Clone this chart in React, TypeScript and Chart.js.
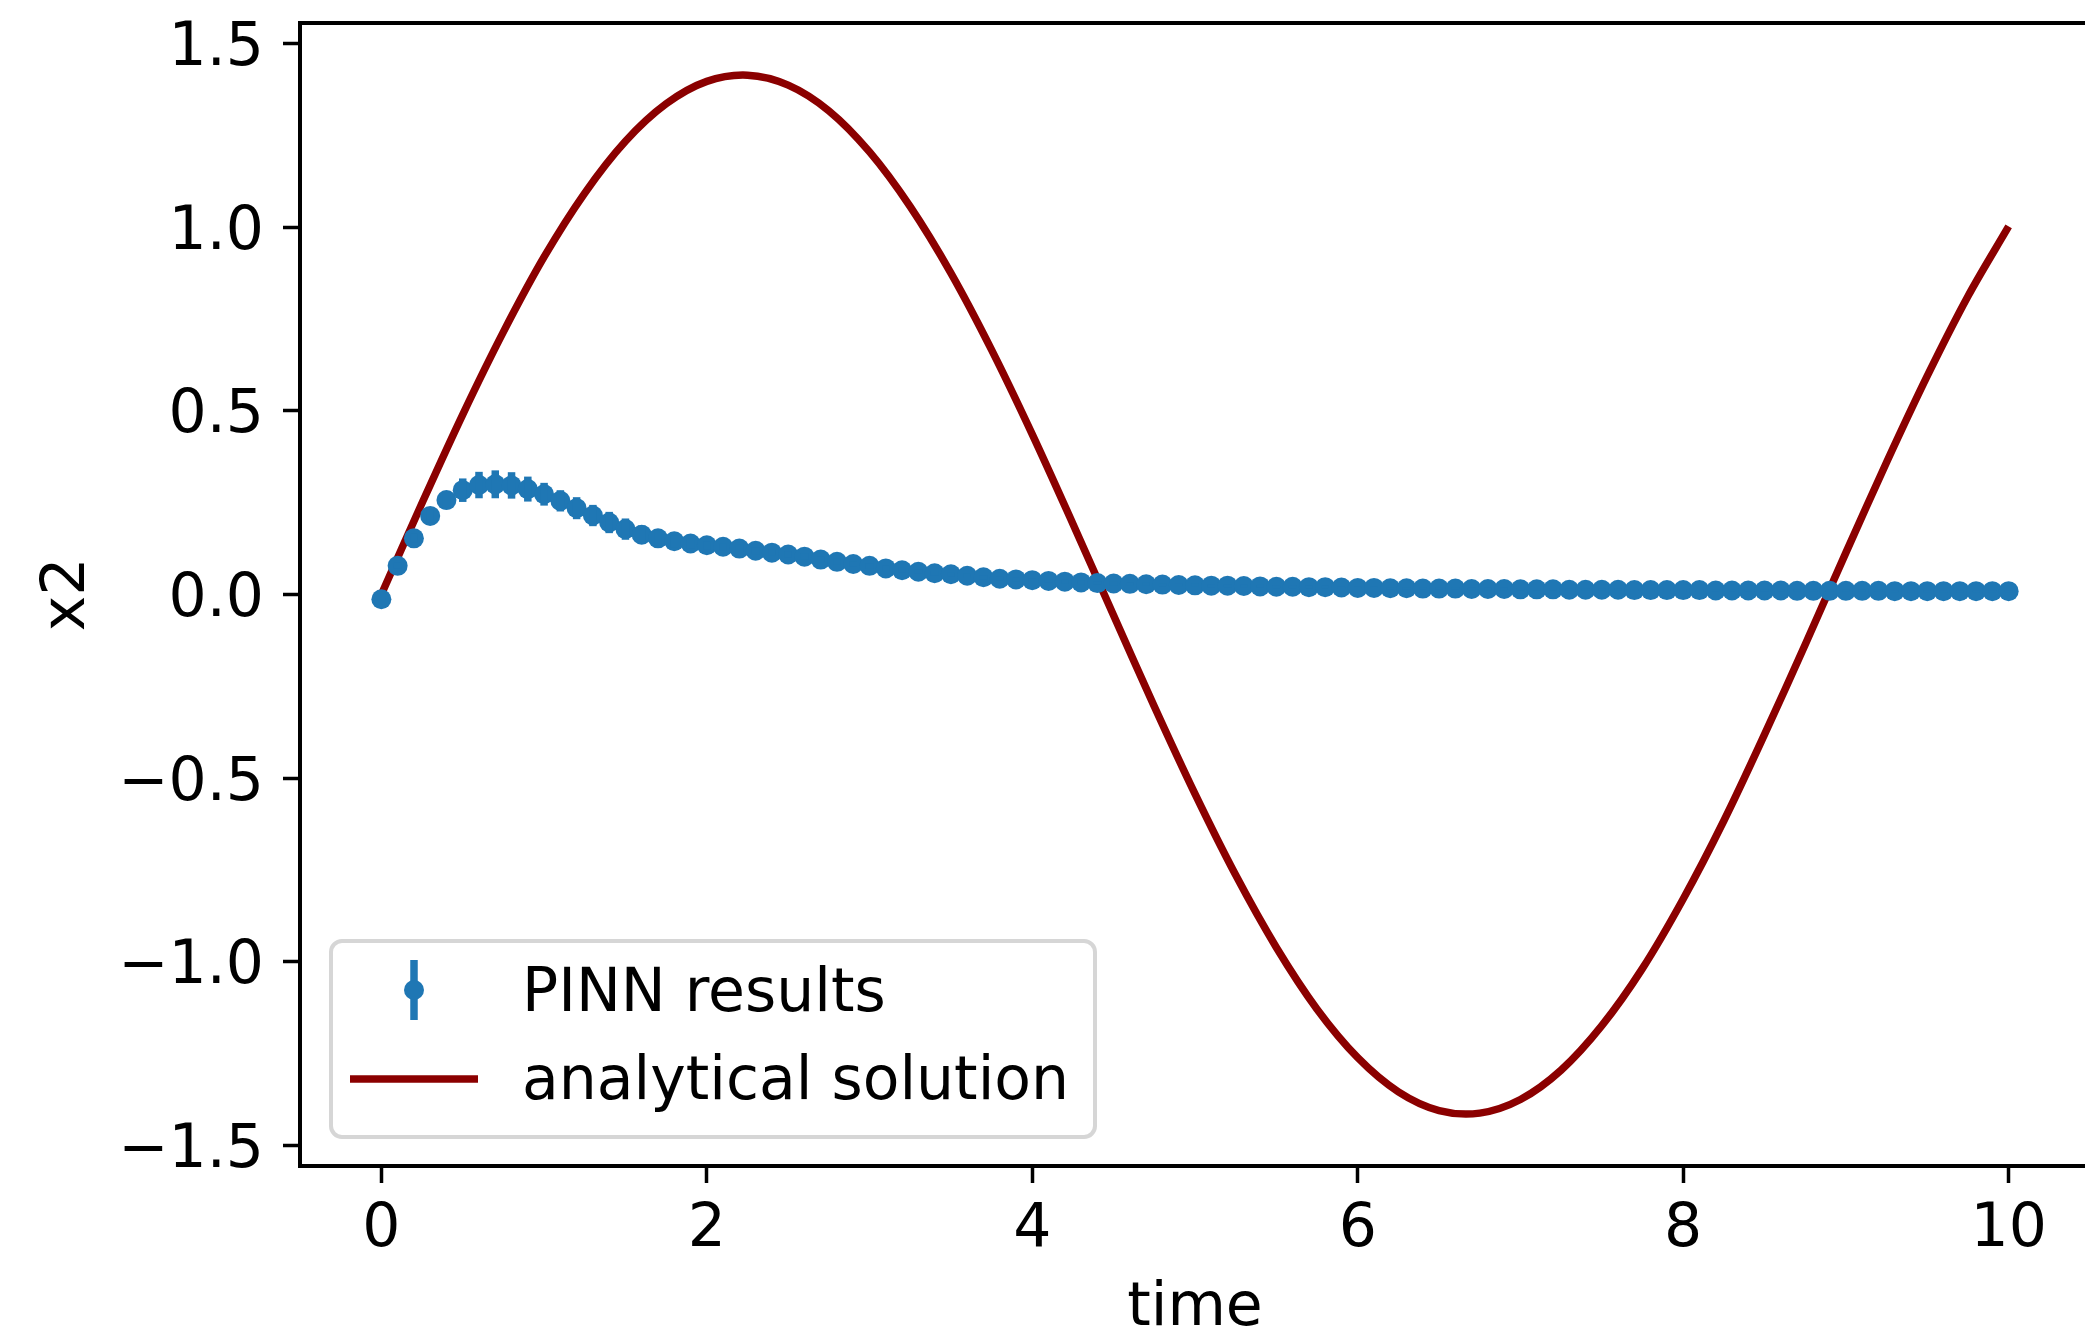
import React, { useEffect, useRef } from 'react';
import { Chart, registerables } from 'chart.js';

Chart.register(...registerables);

// ---------------- data ----------------
const pinnTimes = [
  0.0, 0.1, 0.2, 0.3, 0.4, 0.5, 0.6, 0.7, 0.8, 0.9,
  1.0, 1.1, 1.2, 1.3, 1.4, 1.5, 1.6, 1.7, 1.8, 1.9,
  2.0, 2.1, 2.2, 2.3, 2.4, 2.5, 2.6, 2.7, 2.8, 2.9,
  3.0, 3.1, 3.2, 3.3, 3.4, 3.5, 3.6, 3.7, 3.8, 3.9,
  4.0, 4.1, 4.2, 4.3, 4.4, 4.5, 4.6, 4.7, 4.8, 4.9,
  5.0, 5.1, 5.2, 5.3, 5.4, 5.5, 5.6, 5.7, 5.8, 5.9,
  6.0, 6.1, 6.2, 6.3, 6.4, 6.5, 6.6, 6.7, 6.8, 6.9,
  7.0, 7.1, 7.2, 7.3, 7.4, 7.5, 7.6, 7.7, 7.8, 7.9,
  8.0, 8.1, 8.2, 8.3, 8.4, 8.5, 8.6, 8.7, 8.8, 8.9,
  9.0, 9.1, 9.2, 9.3, 9.4, 9.5, 9.6, 9.7, 9.8, 9.9,
  10.0,
];

const pinnMean = [
  -0.013, 0.078, 0.153, 0.214, 0.257, 0.284, 0.298, 0.300, 0.297, 0.287,
  0.273, 0.255, 0.235, 0.215, 0.196, 0.178, 0.163, 0.153, 0.145, 0.139,
  0.134, 0.130, 0.125, 0.119, 0.114, 0.109, 0.103, 0.095, 0.089, 0.083,
  0.078, 0.071, 0.066, 0.062, 0.058, 0.055, 0.051, 0.047, 0.043, 0.041,
  0.039, 0.037, 0.035, 0.033, 0.031, 0.030, 0.029, 0.028, 0.027, 0.026,
  0.025, 0.024, 0.024, 0.023, 0.022, 0.021, 0.021, 0.020, 0.020, 0.019,
  0.018, 0.018, 0.017, 0.017, 0.016, 0.016, 0.016, 0.015, 0.015, 0.015,
  0.014, 0.014, 0.014, 0.013, 0.013, 0.013, 0.013, 0.012, 0.012, 0.012,
  0.012, 0.012, 0.011, 0.011, 0.011, 0.011, 0.011, 0.010, 0.010, 0.010,
  0.010, 0.010, 0.010, 0.009, 0.009, 0.009, 0.009, 0.009, 0.009, 0.009,
  0.009,
];

const pinnError = [
  0.004, 0.008, 0.012, 0.018, 0.025, 0.032, 0.036, 0.038, 0.036, 0.034,
  0.031, 0.029, 0.030, 0.029, 0.029, 0.029, 0.025, 0.020, 0.016, 0.013,
  0.011, 0.010, 0.010, 0.009, 0.009, 0.009, 0.008, 0.008, 0.008, 0.007,
  0.007, 0.007, 0.007, 0.006, 0.006, 0.006, 0.006, 0.006, 0.005, 0.005,
  0.005, 0.005, 0.005, 0.005, 0.005, 0.005, 0.004, 0.004, 0.004, 0.004,
  0.004, 0.004, 0.004, 0.004, 0.004, 0.004, 0.004, 0.004, 0.004, 0.004,
  0.003, 0.003, 0.003, 0.003, 0.003, 0.003, 0.003, 0.003, 0.003, 0.003,
  0.003, 0.003, 0.003, 0.003, 0.003, 0.003, 0.003, 0.003, 0.003, 0.003,
  0.003, 0.003, 0.003, 0.003, 0.003, 0.003, 0.003, 0.003, 0.003, 0.003,
  0.003, 0.003, 0.003, 0.003, 0.003, 0.003, 0.003, 0.003, 0.003, 0.003,
  0.003,
];

const solutionTimes = [
  0, 0.25, 0.5, 0.75, 1.0, 1.25, 1.5, 1.75, 2.0, 2.25,
  2.5, 2.75, 3.0, 3.25, 3.5, 3.75, 4.0, 4.25, 4.5, 4.75,
  5.0, 5.25, 5.5, 5.75, 6.0, 6.25, 6.5, 6.75, 7.0, 7.25,
  7.5, 7.75, 8.0, 8.25, 8.5, 8.75, 9.0, 9.25, 9.5, 9.75,
  10.0,
];

const solutionValues = [
  0.0, 0.249, 0.490, 0.715, 0.919, 1.093, 1.234, 1.336, 1.397, 1.414,
  1.387, 1.317, 1.205, 1.056, 0.875, 0.666, 0.436, 0.192, -0.057, -0.305,
  -0.543, -0.764, -0.961, -1.129, -1.261, -1.354, -1.405, -1.412, -1.375, -1.295,
  -1.174, -1.018, -0.829, -0.616, -0.381, -0.136, 0.114, 0.360, 0.595, 0.812,
  1.002,
];

const xTickValues = [0, 2, 4, 6, 8, 10];
const xTickLabels = ['0', '2', '4', '6', '8', '10'];
const yTickValues = [-1.5, -1.0, -0.5, 0.0, 0.5, 1.0, 1.5];
const yTickLabels = ['\u22121.5', '\u22121.0', '\u22120.5', '0.0', '0.5', '1.0', '1.5'];
const seriesLabels = ['PINN results', 'analytical solution'];
const xAxisTitle = 'time';
const yAxisTitle = 'x2';

// ---------------- styles ----------------
const FONT = "'DejaVu Sans', 'Liberation Sans', sans-serif";
const FONT_SIZE = 60;
const PINN_COLOR = '#1f77b4';
const LINE_COLOR = '#8b0000';
const LINE_W = 7.5;

const errorBarPlugin = {
  id: 'errorBars',
  afterDatasetsDraw(chart: any) {
    const { ctx, chartArea, scales } = chart;
    const xs = scales.x;
    const ys = scales.y;
    ctx.save();
    ctx.beginPath();
    ctx.rect(chartArea.left, chartArea.top, chartArea.right - chartArea.left, chartArea.bottom - chartArea.top);
    ctx.clip();
    ctx.strokeStyle = PINN_COLOR;
    ctx.lineWidth = LINE_W;
    ctx.lineCap = 'butt';
    for (let i = 0; i < pinnTimes.length; i++) {
      const x = xs.getPixelForValue(pinnTimes[i]);
      ctx.beginPath();
      ctx.moveTo(x, ys.getPixelForValue(pinnMean[i] - pinnError[i]));
      ctx.lineTo(x, ys.getPixelForValue(pinnMean[i] + pinnError[i]));
      ctx.stroke();
    }
    ctx.restore();
  },
};

const spinesPlugin = {
  id: 'spines',
  afterDraw(chart: any) {
    const { ctx, chartArea } = chart;
    ctx.save();
    ctx.strokeStyle = '#000';
    ctx.lineWidth = 4;
    ctx.lineCap = 'square';
    ctx.beginPath();
    ctx.moveTo(chartArea.left, chartArea.top);
    ctx.lineTo(chartArea.right, chartArea.top);
    ctx.lineTo(chartArea.right, chartArea.bottom);
    ctx.stroke();
    ctx.restore();
  },
};

function roundRect(ctx: CanvasRenderingContext2D, x: number, y: number, w: number, h: number, r: number) {
  ctx.beginPath();
  ctx.moveTo(x + r, y);
  ctx.lineTo(x + w - r, y);
  ctx.arcTo(x + w, y, x + w, y + r, r);
  ctx.lineTo(x + w, y + h - r);
  ctx.arcTo(x + w, y + h, x + w - r, y + h, r);
  ctx.lineTo(x + r, y + h);
  ctx.arcTo(x, y + h, x, y + h - r, r);
  ctx.lineTo(x, y + r);
  ctx.arcTo(x, y, x + r, y, r);
  ctx.closePath();
}

const legendPlugin = {
  id: 'mplLegend',
  afterDraw(chart: any) {
    const { ctx, chartArea } = chart;
    const bx = chartArea.left + 31;
    const bw = 764;
    const bh = 196;
    const by = chartArea.bottom - 29 - bh;
    ctx.save();
    roundRect(ctx, bx, by, bw, bh, 11);
    ctx.fillStyle = 'rgba(255,255,255,0.8)';
    ctx.fill();
    ctx.strokeStyle = '#d6d6d6';
    ctx.lineWidth = 4;
    ctx.stroke();

    // errorbar handle
    const hx = bx + 83;
    ctx.strokeStyle = PINN_COLOR;
    ctx.lineWidth = LINE_W;
    ctx.lineCap = 'butt';
    ctx.beginPath();
    ctx.moveTo(hx, by + 19);
    ctx.lineTo(hx, by + 79);
    ctx.stroke();
    ctx.fillStyle = PINN_COLOR;
    ctx.beginPath();
    ctx.arc(hx, by + 49, 10, 0, Math.PI * 2);
    ctx.fill();

    // line handle
    ctx.strokeStyle = LINE_COLOR;
    ctx.beginPath();
    ctx.moveTo(bx + 19, by + 138);
    ctx.lineTo(bx + 147, by + 138);
    ctx.stroke();

    ctx.fillStyle = '#000';
    ctx.font = `${FONT_SIZE}px ${FONT}`;
    ctx.textAlign = 'left';
    ctx.textBaseline = 'alphabetic';
    ctx.fillText(seriesLabels[0], bx + 191, by + 70);
    ctx.fillText(seriesLabels[1], bx + 191, by + 158);
    ctx.restore();
  },
};

function labelFor(values: number[], labels: string[], v: any) {
  const n = Number(v);
  for (let i = 0; i < values.length; i++) {
    if (Math.abs(values[i] - n) < 1e-9) return labels[i];
  }
  return '';
}

export default function App() {
  const canvasRef = useRef<HTMLCanvasElement | null>(null);

  useEffect(() => {
    const canvas = canvasRef.current;
    if (!canvas) return;
    const tickFont = { family: FONT, size: FONT_SIZE, lineHeight: 1.2 };
    const titleFont = { family: FONT, size: FONT_SIZE, lineHeight: 0.7 };
    const chart = new Chart(canvas, {
      type: 'scatter',
      data: {
        datasets: [
          {
            label: seriesLabels[0],
            data: pinnTimes.map((t, i) => ({ x: t, y: pinnMean[i] })),
            showLine: false,
            pointRadius: 10,
            pointHoverRadius: 10,
            pointBackgroundColor: PINN_COLOR,
            pointBorderWidth: 0,
            backgroundColor: PINN_COLOR,
            borderColor: PINN_COLOR,
          },
          {
            label: seriesLabels[1],
            data: solutionTimes.map((t, i) => ({ x: t, y: solutionValues[i] })),
            showLine: true,
            pointRadius: 0,
            pointHoverRadius: 0,
            borderColor: LINE_COLOR,
            backgroundColor: LINE_COLOR,
            borderWidth: LINE_W,
            borderJoinStyle: 'round',
            tension: 0.33,
            fill: false,
          },
        ],
      } as any,
      options: {
        animation: false,
        responsive: false,
        devicePixelRatio: 1,
        events: [],
        layout: { padding: { left: 0, top: 23, right: 8, bottom: 0 } },
        plugins: {
          legend: { display: false },
          tooltip: { enabled: false },
        },
        scales: {
          x: {
            type: 'linear',
            position: 'bottom',
            min: -0.5,
            max: 10.5,
            afterBuildTicks: (s: any) => {
              s.ticks = xTickValues.map((v) => ({ value: v }));
            },
            afterFit: (s: any) => {
              s.height = 165;
              s.paddingLeft = 0;
              s.paddingRight = 0;
            },
            ticks: {
              autoSkip: false,
              maxRotation: 0,
              minRotation: 0,
              padding: 11,
              color: '#000',
              font: tickFont,
              callback: (v: any) => labelFor(xTickValues, xTickLabels, v),
            },
            grid: {
              display: true,
              drawOnChartArea: false,
              drawTicks: true,
              tickLength: 17,
              tickWidth: 3.5,
              tickColor: '#000',
            },
            border: { display: true, color: '#000', width: 4 },
            title: {
              display: true,
              text: xAxisTitle,
              color: '#000',
              font: titleFont,
              padding: { top: 0, bottom: 1 },
            },
          },
          y: {
            type: 'linear',
            position: 'left',
            min: -1.556,
            max: 1.556,
            afterBuildTicks: (s: any) => {
              s.ticks = yTickValues.map((v) => ({ value: v }));
            },
            afterFit: (s: any) => {
              s.width = 300;
              s.paddingTop = 0;
              s.paddingBottom = 0;
            },
            ticks: {
              autoSkip: false,
              padding: 19,
              labelOffset: 6,
              color: '#000',
              font: tickFont,
              callback: (v: any) => labelFor(yTickValues, yTickLabels, v),
            },
            grid: {
              display: true,
              drawOnChartArea: false,
              drawTicks: true,
              tickLength: 17,
              tickWidth: 3.5,
              tickColor: '#000',
            },
            border: { display: true, color: '#000', width: 4 },
            title: {
              display: true,
              text: yAxisTitle,
              color: '#000',
              font: titleFont,
              padding: { top: 47, bottom: 0 },
            },
          },
        },
      } as any,
      plugins: [errorBarPlugin, spinesPlugin, legendPlugin],
    });
    return () => {
      chart.destroy();
    };
  }, []);

  return (
    <div
      style={{
        position: 'fixed',
        left: 0,
        top: 0,
        width: 2085,
        height: 1331,
        overflow: 'hidden',
        background: '#fff',
      }}
    >
      <canvas ref={canvasRef} width={2100} height={1331} style={{ display: 'block' }} />
    </div>
  );
}
